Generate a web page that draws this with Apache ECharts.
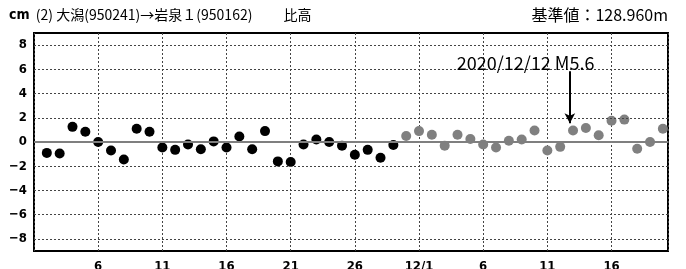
<!DOCTYPE html>
<html>
<head>
<meta charset="utf-8">
<script src="https://cdn.jsdelivr.net/npm/echarts@6/dist/echarts.min.js"></script>
<style>
  html, body { margin: 0; padding: 0; background: #fff; }
  #chart { width: 686px; height: 269px; }
</style>
</head>
<body>
<div id="chart"></div>
<script>
// 期間: 2020/11/1 を 0 日目とする
const blackStart = 1   // 11/2
const blackValues = [-0.9, -0.95, 1.25, 0.85, 0.0, -0.7, -1.45, 1.1, 0.85, -0.45,
  -0.65, -0.2, -0.6, 0.05, -0.45, 0.45, -0.6, 0.9, -1.6, -1.65,
  -0.2, 0.2, 0.0, -0.3, -1.05, -0.65, -1.3, -0.25]
const grayStart = 29   // 11/30
const grayValues = [0.5, 0.9, 0.6, -0.3, 0.6, 0.25, -0.2, -0.45, 0.1, 0.2,
  0.95, -0.7, -0.4, 0.95, 1.15, 0.55, 1.75, 1.85, -0.55, 0.0, 1.1]

const xTicks = [5, 10, 15, 20, 25, 30, 35, 40, 45]
const xTickLabels = ['6', '11', '16', '21', '26', '12/1', '6', '11', '16']
const yGridLevels = [-8, -6, -4, -2, 2, 4, 6, 8]

// 地震の注記 (12/12 M5.6)
const quakeDay = 41.75
const quakeText = '2020/12/12 M5.6'

const narrow = "'Liberation Sans Narrow', 'DejaVu Sans Condensed', sans-serif"
const jp = "'Noto Sans CJK JP', sans-serif"

let chart = echarts.init(document.getElementById('chart'))

chart.setOption({
  animation: false,
  title: [
    {
      left: 9, top: 8, padding: 0,
      text: '{u|cm}  (2) 大潟(950241)→岩泉１(950162)　　 比高',
      textStyle: {
        fontFamily: jp, fontSize: 14, fontWeight: 'normal', color: '#000',
        rich: { u: { fontFamily: narrow, fontWeight: 'bold', fontSize: 14, color: '#000' } }
      }
    },
    {
      right: 18, top: 7, padding: 0,
      text: '基準値：128.960m',
      textStyle: { fontFamily: jp, fontSize: 16, fontWeight: 'normal', color: '#000' }
    }
  ],
  grid: {
    left: 34, right: 18, top: 33, bottom: 18,
    outerBoundsMode: 'none',
    show: true, borderColor: '#000', borderWidth: 2
  },
  xAxis: {
    type: 'value', min: 0, max: 49.4, interval: 5,
    axisLine: { show: false },
    axisTick: { show: false },
    splitLine: { show: true, lineStyle: { color: '#444', type: [2, 2], width: 1 } },
    axisLabel: {
      margin: 9,
      fontFamily: narrow, fontWeight: 'bold', fontSize: 13, color: '#000',
      formatter: v => {
        let i = xTicks.indexOf(v)
        return i >= 0 ? xTickLabels[i] : ''
      }
    }
  },
  yAxis: {
    type: 'value', min: -9, max: 9, interval: 1,
    axisLine: { show: false },
    axisTick: { show: false },
    splitLine: { show: false },
    axisLabel: {
      margin: 7,
      fontFamily: narrow, fontWeight: 'bold', fontSize: 13, color: '#000',
      formatter: v => (v % 2 === 0 ? String(v).replace('-', '−') : '')
    }
  },
  series: [
    {
      name: 'grid',
      type: 'line',
      data: [],
      markLine: {
        silent: true, symbol: 'none', label: { show: false },
        lineStyle: { color: '#444', type: [2, 2], width: 1 },
        data: yGridLevels.map(v => ({ yAxis: v }))
          .concat([{ yAxis: 0, lineStyle: { color: '#7f7f7f', type: 'solid', width: 2 } }])
      }
    },
    {
      name: 'black',
      type: 'scatter',
      symbolSize: 10,
      itemStyle: { color: '#000', opacity: 1 },
      data: blackValues.map((v, i) => [blackStart + i, v])
    },
    {
      name: 'gray',
      type: 'scatter',
      symbolSize: 10,
      itemStyle: { color: '#808080', opacity: 1 },
      data: grayValues.map((v, i) => [grayStart + i, v]),
      markLine: {
        silent: true,
        symbol: ['none', 'arrow'], symbolSize: [8, 10],
        label: { show: false },
        lineStyle: { color: '#000', type: 'solid', width: 2 },
        data: [[{ coord: [quakeDay, 5.85] }, { coord: [quakeDay, 1.55] }]]
      },
      markPoint: {
        silent: true,
        symbol: 'circle', symbolSize: 0,
        label: {
          show: true, position: 'inside',
          formatter: quakeText,
          fontFamily: jp, fontSize: 18, color: '#000'
        },
        data: [{ coord: [38.3, 6.5] }]
      }
    }
  ]
})
</script>
</body>
</html>
